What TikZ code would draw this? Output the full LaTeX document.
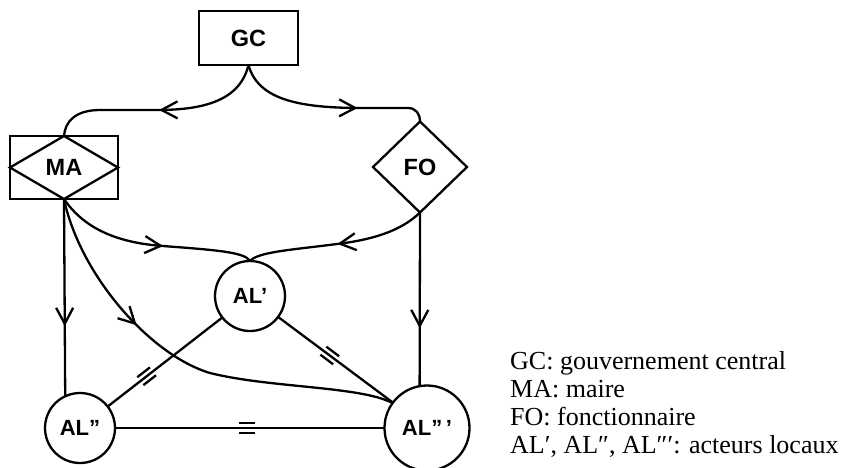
\documentclass[tikz,border=0pt]{standalone}
\usepackage{fontspec}
\setmainfont{Liberation Serif}
\newfontfamily\labfont{Liberation Sans}
\usetikzlibrary{arrows.meta,decorations.markings,shapes.geometric}
\tikzset{
  conn/.style={line width=2.3pt},
  nodefont/.style={font=\labfont\fontsize{23.5}{26}\selectfont\bfseries},
  boxnode/.style={draw, line width=2.3pt, inner sep=0pt, outer sep=0pt, nodefont},
  circnode/.style={draw, circle, line width=2.3pt, inner sep=0pt, outer sep=0pt, font=\labfont\fontsize{22}{24}\selectfont\bfseries},
  legend/.style={anchor=base west, inner sep=0pt, font=\fontsize{26}{28}\selectfont},
  midarr/.style={postaction={decorate,decoration={markings,mark=at position #1 with {\arrow{Straight Barb[length=16pt,width=17pt]}}}}},
  eqmark/.style={postaction={decorate,decoration={markings,mark=at position #1 with {\draw[line width=2.3pt] (-8pt,5pt)--(8pt,5pt) (-8pt,-5pt)--(8pt,-5pt);}}}}
}
\begin{document}
\begin{tikzpicture}[x=1pt,y=-1pt]
\fill[white] (0,0) rectangle (854,467);
\useasboundingbox (0,0) rectangle (854,467);
% nodes
\node[boxnode, minimum width=99pt, minimum height=54pt] (GC) at (248.5,38) {GC};
\node[boxnode, minimum width=108pt, minimum height=63pt] (MA) at (64,167.5) {MA};
\draw[conn] (MA.north) -- (MA.east) -- (MA.south) -- (MA.west) -- cycle;
\node[boxnode, diamond, minimum width=94pt, minimum height=91pt] (FO) at (420,167) {FO};
\node[circnode, minimum size=70pt] (AL1) at (250,296) {AL’};
\node[circnode, minimum size=70pt] (AL2) at (80,428) {AL”};
\node[circnode, minimum size=85pt] (AL3) at (427,428) {AL”\,’};
% connectors
\draw[conn, midarr=0.50] (GC.south) .. controls (240,100) and (205,110) .. (157,110) -- (100,110) .. controls (75,110) and (65,122) .. (MA.north);
\draw[conn, midarr=0.64] (GC.south) .. controls (258,100) and (300,108) .. (362,108) -- (408,108) .. controls (416,108) and (420,114) .. (FO.north);
\draw[conn, midarr=0.645] (MA.south) -- (AL2.115);
\draw[conn, midarr=0.667] (FO.south) -- (AL3.100);
\draw[conn, midarr=0.56] (MA.south) .. controls (85,230) and (120,243) .. (163,246) .. controls (215,250) and (245,252) .. (AL1.north);
\draw[conn, midarr=0.50] (FO.south) .. controls (400,232) and (370,240) .. (337,244) .. controls (290,250) and (258,252) .. (AL1.north);
\draw[conn, midarr=0.35] (MA.south) .. controls (80,275) and (150,355) .. (210,373) .. controls (270,388) and (360,386) .. (AL3.144);
\draw[conn, eqmark=0.66] (AL1) -- (AL2);
\draw[conn, eqmark=0.45] (AL1) -- (AL3);
\draw[conn, eqmark=0.49] (AL2) -- (AL3);
% legend
\node[legend] (L1) at (510,369) {GC: gouvernement central};
\node[legend] (L2) at (510,397) {MA: maire};
\node[legend] (L3) at (510,425) {FO: fonctionnaire};
\node[legend] (L4) at (510,453) {AL′, AL″, AL″′: acteurs locaux};
\end{tikzpicture}
\end{document}
